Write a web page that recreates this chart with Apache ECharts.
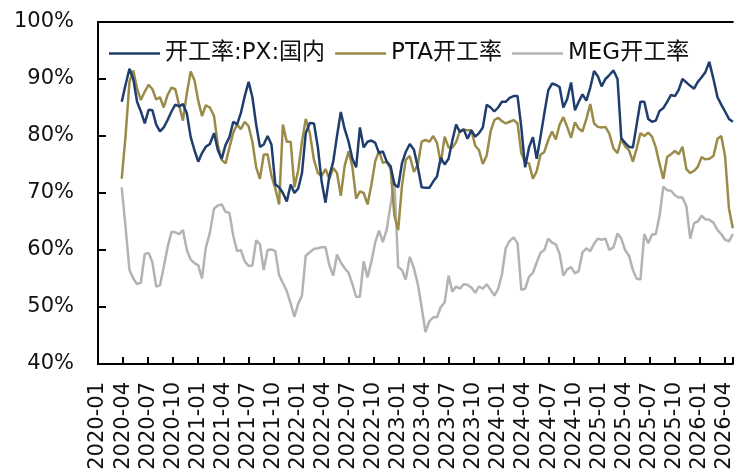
<!DOCTYPE html>
<html>
<head>
<meta charset="utf-8">
<script src="https://cdn.jsdelivr.net/npm/echarts@6/dist/echarts.min.js"></script>
<style>
html,body{margin:0;padding:0;background:#fff;}
#chart{width:735px;height:475px;}
</style>
</head>
<body>
<div id="chart"></div>
<script>
// Weekly data sampled every two weeks, first point 2020-03-27
const startDate = '2020-03-27';
const stepDays = 14;
const seriesNames = ['开工率:PX:国内', 'PTA开工率', 'MEG开工率'];
const yTicks = [40, 50, 60, 70, 80, 90, 100];

const pxRate = [
  86, 89, 91.8, 90, 86, 84.3, 82.2, 84.6, 84.5, 82,
  80.8, 81.5, 82.8, 84.3, 85.5, 85.2, 85.6, 84, 79.8, 77.5,
  75.5, 77, 78.1, 78.6, 80.5, 77.5, 76, 78.4, 79.8, 82.5,
  82, 84, 87, 89.5, 86.8, 82, 78.1, 78.5, 80, 78.5,
  71.5, 71, 70, 68.5, 71.5, 70, 70.8, 73.5, 80.5, 82.3,
  82.2, 78, 72, 68.3, 73, 75.5, 80, 84.2, 81.2, 79,
  76, 74.5, 81.5, 78, 79, 79.2, 78.8, 77, 77.3, 75.5,
  74.7, 71.5, 71, 75.2, 77.2, 78.6, 77.6, 74.5, 71, 70.9,
  70.9, 72, 72.9, 76.2, 75, 76, 79.2, 82, 80.7, 81.2,
  79.5, 81, 79.9, 80.5, 81.5, 85.5, 85, 84.3, 85, 86,
  86, 86.7, 87, 87, 81.5, 74.5, 78, 79.8, 76, 79.8,
  84, 88, 89.2, 89, 88.6, 85, 86.5, 89.4, 84.5, 86,
  87.3, 86.2, 88.5, 91.4, 90.5, 88.7, 90, 90.7, 91.5, 90,
  79.6, 78.8, 78.1, 78, 82, 86, 86, 83, 82.5, 82.7,
  84.4, 84.9, 86, 87.2, 87, 88.1, 90, 89.4, 88.8, 88.3,
  89.5, 90.3, 91.2, 93, 90, 86.8, 85.5, 84.3, 83, 82.5
];
const ptaRate = [
  72.5, 80, 89.5, 91.5, 88.3, 86.3, 87.8, 89, 88.2, 86.4,
  86.8, 85, 87.2, 88.5, 88.2, 85.4, 82.7, 87.5, 91.3, 89.8,
  86.2, 83.5, 85.4, 85, 83.5, 78.3, 75.8, 75.2, 78, 80.6,
  82, 81.2, 82.5, 81.7, 79, 74.5, 72.5, 76.7, 76.8, 73,
  70.8, 68, 82, 79, 79, 71, 74, 79, 83, 80.5,
  75.8, 73.5, 73, 74.2, 72.5, 74.4, 73.5, 69.5, 74.8, 77.3,
  74.6, 69, 70.3, 70, 68, 71.5, 75.6, 77.4, 75.3, 75.5,
  74.2, 66, 63.5, 71.2, 75.8, 76.5, 73.7, 75, 79, 79.3,
  79, 80, 78.8, 75.2, 79.9, 78, 78, 78.9, 80.9, 81.1,
  81, 81, 78.3, 77.5, 75.1, 76.6, 80.8, 82.8, 83.2, 82.6,
  82.2, 82.5, 82.8, 82.2, 77, 75.4, 75.2, 72.5, 73.8, 76.7,
  77.2, 79.3, 80.8, 79.4, 82, 83.3, 81.6, 79.7, 82.4, 81.3,
  80.8, 83, 85.6, 82.2, 81.6, 81.5, 81.6, 80.4, 77.8, 77,
  79.5, 78.2, 77.5, 75.5, 77.8, 80.5, 80, 80.6, 79.9, 78,
  75.1, 72.5, 76.3, 76.8, 77.4, 76.8, 78.1, 74.2, 73.5, 73.9,
  74.6, 76.3, 75.9, 76, 76.5, 79.5, 80, 76.5, 67.3, 63.8
];
const megRate = [
  71, 64, 56.5, 55, 54, 54.3, 59.3, 59.5, 57.8, 53.6,
  53.8, 57, 60.5, 63.2, 63.1, 62.8, 63.5, 60, 58.3, 57.7,
  57.3, 55, 60.4, 63, 67.3, 67.8, 68, 66.7, 66.5, 62.5,
  59.8, 60, 58, 57.2, 57.3, 61.7, 61, 56.5, 60, 60.1,
  59.8, 55.6, 54.2, 52.8, 50.6, 48.3, 50.6, 52, 59, 59.6,
  60.2, 60.3, 60.5, 60.5, 57.3, 55.5, 59.2, 57.8, 56.8, 56,
  54, 51.8, 51.8, 58, 55.2, 58, 61.4, 63.4, 61.4, 63.6,
  68, 72, 57, 56.5, 54.8, 58.8, 56.8, 54, 50, 45.6,
  47.5, 48.2, 48.2, 50, 50.8, 55.5, 52.7, 53.6, 53.2, 54,
  53.9, 53.4, 52.5, 53.6, 53.2, 54, 53, 52, 53.2, 55.7,
  60.3, 61.6, 62.2, 61.2, 53, 53.2, 55.3, 56, 57.8, 59.5,
  60, 62, 61.3, 61, 59.3, 55.5, 56.6, 57, 55.9, 56.3,
  59.6, 60.3, 59.8, 61.1, 62, 61.8, 62, 60, 60.5, 62.9,
  62, 60, 59, 56.5, 55, 54.8, 62.8, 61.2, 62.7, 62.8,
  66, 71.1, 70.5, 70.4, 69.6, 69.2, 69.2, 67.7, 62, 64.7,
  65, 66, 65.4, 65.3, 64.8, 63.5, 62.8, 61.8, 61.5, 62.8
];

// month index since 2020-01 (fractional), so quarter ticks land on month starts
function monthIndexOf(t) {
  const d = new Date(t);
  const y = d.getUTCFullYear(), m = d.getUTCMonth(), day = d.getUTCDate();
  const dim = new Date(Date.UTC(y, m + 1, 0)).getUTCDate();
  return (y - 2020) * 12 + m + (day - 1) / dim;
}
const t0 = Date.parse(startDate + 'T00:00:00Z');
const xs = pxRate.map((_, i) => monthIndexOf(t0 + i * stepDays * 86400000));
const pair = arr => arr.map((v, i) => [xs[i], v]);

const C_PX = '#1f3d6d', C_PTA = '#9a8c48', C_MEG = '#b3b3b3';
const FONT = "'DejaVu Sans', 'Noto Sans CJK SC', sans-serif";
const chart = echarts.init(document.getElementById('chart'));
chart.setOption({
  animation: false,
  backgroundColor: '#fff',
  legend: {
    left: 104, top: 37,
    icon: 'rect',
    itemWidth: 51, itemHeight: 2.5, itemGap: 10,
    textStyle: { fontFamily: FONT, fontSize: 23, color: '#111' },
    data: seriesNames
  },
  grid: { left: 98, right: 0, top: 22, bottom: 111 },
  xAxis: [{
    type: 'value', min: 0, max: xs[xs.length - 1], interval: 3,
    splitLine: { show: false },
    axisLine: { lineStyle: { color: '#000', width: 2 } },
    axisTick: { inside: true, length: 7, lineStyle: { color: '#000', width: 2 } },
    axisLabel: {
      rotate: 90, margin: 18, fontFamily: FONT, fontSize: 21, color: '#111',
      formatter: v => {
        if (Math.abs(v % 3) > 1e-6) return '';
        const y = 2020 + Math.floor(v / 12), m = v % 12 + 1;
        return y + '-' + (m < 10 ? '0' + m : m);
      }
    }
  }, {
    type: 'value', position: 'top', min: 0, max: xs[xs.length - 1],
    axisLine: { show: true, onZero: false, lineStyle: { color: '#000', width: 2 } },
    axisTick: { show: false }, axisLabel: { show: false }, splitLine: { show: false }
  }],
  yAxis: {
    type: 'value', min: yTicks[0], max: yTicks[yTicks.length - 1], interval: 10,
    splitLine: { show: false },
    axisLine: { show: true, lineStyle: { color: '#000', width: 2 } },
    axisTick: { show: true, inside: true, length: 8, lineStyle: { color: '#000', width: 2 } },
    axisLabel: { margin: 24, fontFamily: FONT, fontSize: 21, color: '#111', formatter: '{value}%' }
  },
  series: [
    { name: seriesNames[2], type: 'line', data: pair(megRate), symbol: 'none',
      itemStyle: { color: C_MEG }, lineStyle: { width: 2.5, color: C_MEG }, z: 2 },
    { name: seriesNames[1], type: 'line', data: pair(ptaRate), symbol: 'none',
      itemStyle: { color: C_PTA }, lineStyle: { width: 2.5, color: C_PTA }, z: 3 },
    { name: seriesNames[0], type: 'line', data: pair(pxRate), symbol: 'none',
      itemStyle: { color: C_PX }, lineStyle: { width: 2.5, color: C_PX }, z: 4 }
  ]
});
</script>
</body>
</html>
